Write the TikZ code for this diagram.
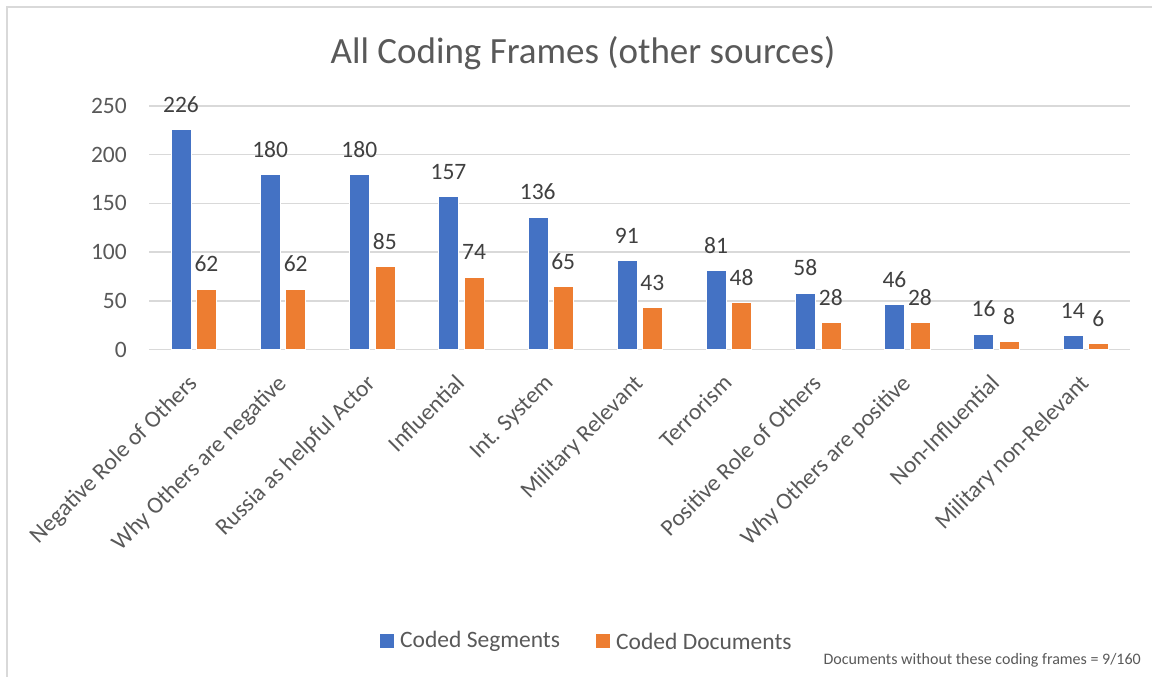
\documentclass[tikz,border=0pt]{standalone}
\usepackage{fontspec}
\setmainfont{Carlito}
\definecolor{segblue}{HTML}{4472C4}
\definecolor{docorange}{HTML}{ED7D31}
\definecolor{gridgray}{HTML}{D9D9D9}
\definecolor{txtgray}{HTML}{595959}
\definecolor{lblgray}{HTML}{404040}
\tikzset{
  sbar/.style={fill=segblue, draw=white, line width=0.4pt, inner sep=0pt, minimum width=20pt, anchor=south},
  dbar/.style={fill=docorange, draw=white, line width=0.4pt, inner sep=0pt, minimum width=20pt, anchor=south},
  vlbl/.style={text=lblgray, font=\fontsize{23.5}{28}\selectfont, inner sep=0pt},
  ticklbl/.style={text=txtgray, font=\fontsize{23.5}{28}\selectfont, inner sep=0pt, anchor=east},
  catlbl/.style={text=txtgray, font=\fontsize{23.5}{28}\selectfont, inner sep=0pt, anchor=north east, rotate=45},
  gridline/.style={draw=gridgray, line width=1.5pt},
  legsq/.style={inner sep=0pt, minimum size=14pt},
  legtxt/.style={text=txtgray, font=\fontsize{23.5}{28}\selectfont, inner sep=0pt, anchor=west},
}
\begin{document}
\begin{tikzpicture}[x=1pt,y=-1pt]
\useasboundingbox (0,0) rectangle (1152,677);
\fill[white] (0,0) rectangle (1152,677);
% chart frame
\coordinate (fb) at (7,677);
\coordinate (fc) at (7,7);
\coordinate (fr) at (1152,7);
\draw[draw=gridgray, line width=1.5pt] (fb) -- (fc) -- (fr);
% title
\node[text=txtgray, font=\fontsize{37}{44}\selectfont, inner sep=0pt] (title) at (583,53) {All Coding Frames (other sources)};
% grid and ticks
\foreach \v in {0,50,100,150,200,250}{
  \pgfmathsetmacro\gy{349.5-\v*0.974}
  \coordinate (gl\v) at (149,\gy);
  \coordinate (gr\v) at (1130,\gy);
  \draw[gridline] (gl\v) -- (gr\v);
  \node[ticklbl] (tick\v) at (127,\gy) {\v};
}
% bars
\foreach \name/\s/\d [count=\i from 0] in {
  Negative Role of Others/226/62,
  Why Others are negative/180/62,
  Russia as helpful Actor/180/85,
  Influential/157/74,
  Int. System/136/65,
  Military Relevant/91/43,
  Terrorism/81/48,
  Positive Role of Others/58/28,
  Why Others are positive/46/28,
  Non-Influential/16/8,
  Military non-Relevant/14/6}{
  \pgfmathsetmacro\c{149+89.18*(\i+0.5)}
  \pgfmathsetmacro\hs{\s*0.974}
  \pgfmathsetmacro\hd{\d*0.974}
  \pgfmathsetmacro\ys{349.5-\hs-25}
  \pgfmathsetmacro\yd{349.5-\hd-25}
  \node[sbar, minimum height=\hs pt] (s\i) at (\c-12.6,349.5) {};
  \node[dbar, minimum height=\hd pt] (d\i) at (\c+12.9,349.5) {};
  \node[vlbl] (sl\i) at (\c-12.6,\ys) {\s};
  \node[vlbl] (dl\i) at (\c+12.9,\yd) {\d};
  \node[catlbl] (cat\i) at (\c-7,373) {\name};
}
% legend
\node[legsq, fill=segblue] (lgs) at (387,641) {};
\node[legtxt] (lgst) at (400,641) {Coded Segments};
\node[legsq, fill=docorange] (lgd) at (603,641) {};
\node[legtxt] (lgdt) at (616,641) {Coded Documents};
% note
\node[text=txtgray, font=\fontsize{16}{19}\selectfont, inner sep=0pt, anchor=east] (note) at (1141,660) {Documents without these coding frames = 9/160};
\end{tikzpicture}
\end{document}
